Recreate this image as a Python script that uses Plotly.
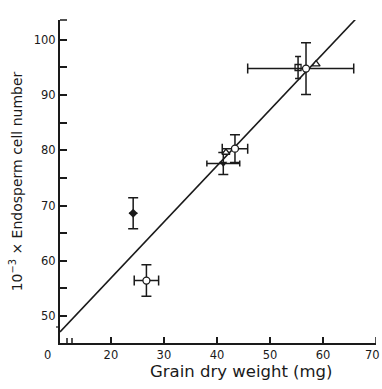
import plotly.graph_objects as go

# ---- data ----
# filled point
filled_x = [24.2]
filled_y = [68.6]
filled_xerr = [0.8]
filled_yerr = [2.8]

# open circles
circ_x = [26.7, 43.4, 56.8]
circ_y = [56.4, 80.3, 94.8]
circ_xerr_plus = [2.3, 2.4, 9.0]
circ_xerr_minus = [2.3, 2.4, 11.0]
circ_yerr = [2.85, 2.5, 4.7]

# filled triangle (lower point of the 41 mg cluster)
tri_f_x = [41.2]
tri_f_y = [77.6]
tri_f_xerr = [3.1]
tri_f_yerr = [2.0]

# open triangles
tri_o_x = [41.7, 58.7]
tri_o_y = [79.6, 95.6]

# open square
sq_x = [55.3]
sq_y = [95.0]
sq_yerr = [2.0]

# regression line end points
line_x = [10.4, 66.6]
line_y = [47.1, 104.2]

x_ticks = [20, 30, 40, 50, 60, 70]
y_ticks = [50, 60, 70, 80, 90, 100]

X_RANGE = [10.4, 70]
Y_RANGE = [45.1, 103.6]

BLACK = "#1a1a1a"
FONT = "DejaVu Sans"

fig = go.Figure()

fig.add_trace(go.Scatter(x=line_x, y=line_y, mode="lines",
                         line=dict(color=BLACK, width=1.6), hoverinfo="skip"))

def eb(arr, w=5, minus=None):
    d = dict(type="data", array=arr, visible=True, color=BLACK,
             thickness=1.5, width=w)
    if minus is not None:
        d["symmetric"] = False
        d["arrayminus"] = minus
    return d

fig.add_trace(go.Scatter(x=filled_x, y=filled_y, mode="markers",
                         marker=dict(symbol="diamond", size=7, color=BLACK),
                         error_x=eb(filled_xerr, 0), error_y=eb(filled_yerr)))
fig.add_trace(go.Scatter(x=tri_f_x, y=tri_f_y, mode="markers",
                         marker=dict(symbol="triangle-down", size=7, color=BLACK),
                         error_x=eb(tri_f_xerr, 3), error_y=eb(tri_f_yerr)))
fig.add_trace(go.Scatter(x=sq_x, y=sq_y, mode="markers",
                         marker=dict(symbol="square-open", size=6, color=BLACK,
                                     line=dict(width=1.3)),
                         error_y=eb(sq_yerr, 3)))
fig.add_trace(go.Scatter(x=tri_o_x, y=tri_o_y, mode="markers",
                         marker=dict(symbol="triangle-up", size=7, color="white",
                                     line=dict(color=BLACK, width=1.3))))
fig.add_trace(go.Scatter(x=circ_x, y=circ_y, mode="markers",
                         marker=dict(symbol="circle", size=7, color="white",
                                     line=dict(color=BLACK, width=1.3)),
                         error_x=eb(circ_xerr_plus, 5, circ_xerr_minus),
                         error_y=eb(circ_yerr)))

fig.update_layout(
    width=382, height=389, autosize=False,
    margin=dict(l=60, r=6, t=20, b=46),
    paper_bgcolor="white", plot_bgcolor="white",
    showlegend=False,
    font=dict(family=FONT, color=BLACK, size=11),
    xaxis=dict(range=X_RANGE, showgrid=False, zeroline=False,
               showline=True, linecolor=BLACK, linewidth=2,
               ticks="inside", ticklen=6, tickwidth=1.5, tickcolor=BLACK,
               tickvals=x_ticks[:-1], ticktext=[str(v) for v in x_ticks[:-1]],
               tickfont=dict(size=11.5)),
    yaxis=dict(range=Y_RANGE, showgrid=False, zeroline=False,
               showline=True, linecolor=BLACK, linewidth=2,
               ticks="inside", ticklen=7, tickwidth=1.5, tickcolor=BLACK,
               tickvals=y_ticks, ticktext=[str(v) for v in y_ticks],
               tickfont=dict(size=11.5),
               minor=dict(ticks="inside", ticklen=7, tickwidth=1.5,
                          tickcolor=BLACK, dtick=5, tick0=0, showgrid=False),
               title=dict(text="10<sup>−3</sup> × Endosperm cell number",
                          font=dict(size=14), standoff=8)),
)

# last x tick (70) at the very edge, drawn as tick + label
fig.add_shape(type="line", xref="x", yref="y domain",
              x0=x_ticks[-1], x1=x_ticks[-1], y0=0, y1=6 / 323,
              line=dict(color=BLACK, width=1.5))
fig.add_annotation(x=x_ticks[-1], y=0, xref="x", yref="y domain",
                   text=str(x_ticks[-1]), showarrow=False,
                   xanchor="right", yanchor="top", yshift=-3, xshift=6,
                   font=dict(size=11.5))

# x axis title
fig.add_annotation(x=0.575, y=0, xref="x domain", yref="y domain",
                   text="Grain dry weight (mg)", showarrow=False,
                   xanchor="center", yanchor="top", yshift=-17,
                   font=dict(size=16.5))

# origin label
fig.add_annotation(x=0, y=0, xref="x domain", yref="y domain", text="0",
                   showarrow=False, xanchor="center", yanchor="top",
                   xshift=-13, yshift=-3, font=dict(size=11.5))

# axis-break marks and top end tick (decoration)
for dx in (7, 12):
    fig.add_shape(type="line", xref="x domain", yref="y domain",
                  x0=dx / 316, x1=dx / 316, y0=0, y1=5 / 323,
                  line=dict(color=BLACK, width=1.5))
fig.add_shape(type="line", xref="x domain", yref="y domain",
              x0=0, x1=7 / 316, y0=1, y1=1, line=dict(color=BLACK, width=1.5))
fig.add_shape(type="line", xref="x domain", yref="y domain",
              x0=-4 / 316, x1=0, y0=16 / 323, y1=16 / 323,
              line=dict(color=BLACK, width=1.2))

fig.write_html("out.html")
